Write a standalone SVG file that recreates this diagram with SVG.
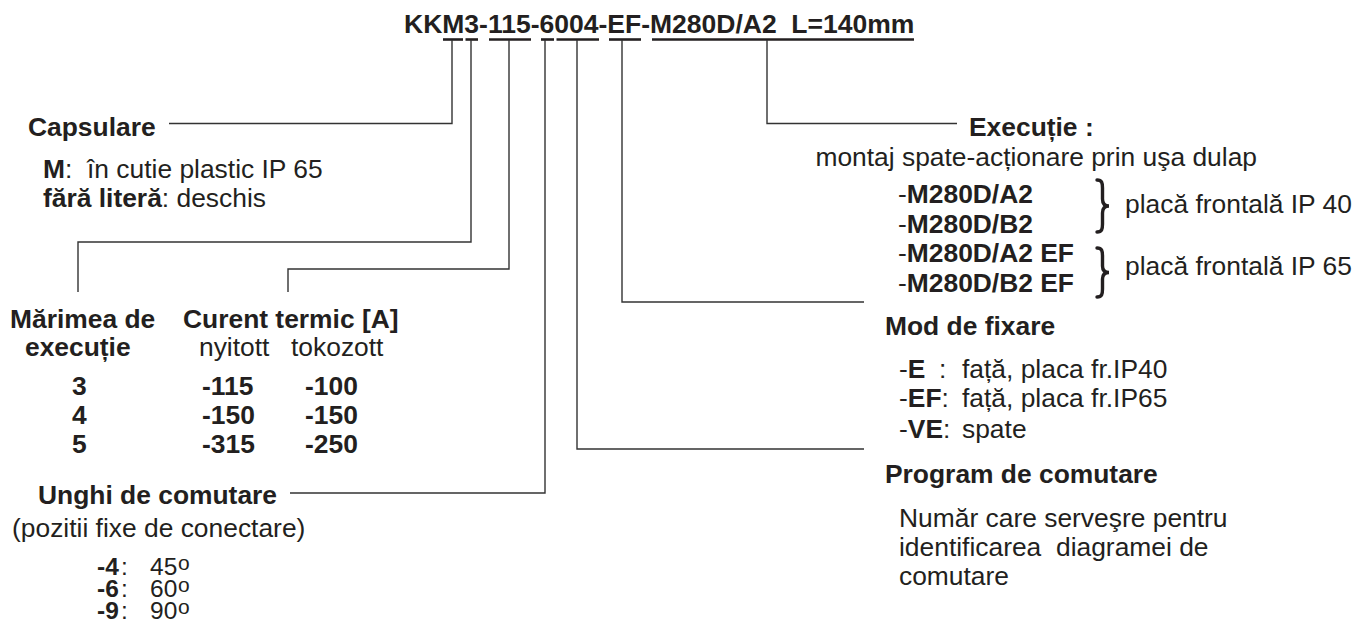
<svg xmlns="http://www.w3.org/2000/svg" width="1358" height="635" viewBox="0 0 1358 635">
<style>
text{font-family:"Liberation Sans",Arial,sans-serif;font-size:26.4px;fill:#231f20}
.b{font-weight:bold}
.conn{fill:none;stroke:#333;stroke-width:1.4}
.ul{stroke:#231f20;stroke-width:2.6}
.brace{fill:none;stroke:#231f20;stroke-width:3.4;stroke-linecap:round}
.deg{font-size:24.5px}
.o{font-size:21px}
</style>
<rect width="1358" height="635" fill="#fff"/>
<g id="title">
<text class="b" x="404" y="33" style="font-size:26.5px" xml:space="preserve">KKM3-115-6004-EF-M280D/A2  L=140mm</text>
<line class="ul" x1="443" y1="39.5" x2="463" y2="39.5"/>
<line class="ul" x1="465.5" y1="39.5" x2="478" y2="39.5"/>
<line class="ul" x1="489" y1="39.5" x2="531" y2="39.5"/>
<line class="ul" x1="541" y1="39.5" x2="554" y2="39.5"/>
<line class="ul" x1="556.5" y1="39.5" x2="599" y2="39.5"/>
<line class="ul" x1="609" y1="39.5" x2="641" y2="39.5"/>
<line class="ul" x1="652" y1="39.5" x2="914" y2="39.5"/>
</g>
<g id="connectors">
<polyline class="conn" points="452,40 452,123.5 169,123.5"/>
<polyline class="conn" points="471,40 471,242 78,242 78,292"/>
<polyline class="conn" points="509,40 509,269 288,269 288,292"/>
<polyline class="conn" points="545,40 545,493 290,493"/>
<polyline class="conn" points="577,40 577,449 864,449"/>
<polyline class="conn" points="622,40 622,302 864,302"/>
<polyline class="conn" points="767,40 767,123.5 957,123.5"/>
</g>
<g id="capsulare">
<text class="b" x="28" y="135.5">Capsulare</text>
<text x="43" y="178" xml:space="preserve"><tspan class="b">M</tspan>:  în cutie plastic IP 65</text>
<text x="43" y="206.5"><tspan class="b">fără literă</tspan>: deschis</text>
</g>
<g id="marime">
<text class="b" x="10" y="328">Mărimea de</text>
<text class="b" x="25" y="356">execuție</text>
<text class="b" x="72" y="395">3</text>
<text class="b" x="72" y="423.5">4</text>
<text class="b" x="72" y="452.5">5</text>
</g>
<g id="curent">
<text class="b" x="183" y="328">Curent termic [A]</text>
<text x="199" y="356">nyitott</text>
<text x="291" y="356">tokozott</text>
<text class="b" x="202" y="395">-115</text>
<text class="b" x="305" y="395">-100</text>
<text class="b" x="202" y="423.5">-150</text>
<text class="b" x="305" y="423.5">-150</text>
<text class="b" x="202" y="452.5">-315</text>
<text class="b" x="305" y="452.5">-250</text>
</g>
<g id="unghi">
<text class="b" x="38" y="504">Unghi de comutare</text>
<text x="12" y="536.5">(pozitii fixe de conectare)</text>
<text class="deg" x="97" y="575"><tspan class="b">-4</tspan><tspan x="121">:</tspan><tspan x="150">45</tspan><tspan class="o" x="178" dy="-5">o</tspan></text>
<text class="deg" x="97" y="597"><tspan class="b">-6</tspan><tspan x="121">:</tspan><tspan x="150">60</tspan><tspan class="o" x="178" dy="-5">o</tspan></text>
<text class="deg" x="97" y="619"><tspan class="b">-9</tspan><tspan x="121">:</tspan><tspan x="150">90</tspan><tspan class="o" x="178" dy="-5">o</tspan></text>
</g>
<g id="executie">
<text class="b" x="969" y="136">Execuție :</text>
<text x="1257" y="166" text-anchor="end">montaj spate-acționare prin uşa dulap</text>
<text x="898" y="203">-<tspan class="b">M280D/A2</tspan></text>
<text x="898" y="232.5">-<tspan class="b">M280D/B2</tspan></text>
<text x="898" y="262">-<tspan class="b">M280D/A2 EF</tspan></text>
<text x="898" y="291.5">-<tspan class="b">M280D/B2 EF</tspan></text>
<path class="brace" d="M1097,180 C1102,180 1102.5,183 1102.5,188 L1102.5,199 C1102.5,203 1104,206 1109,206 C1104,206 1102.5,209 1102.5,213 L1102.5,224 C1102.5,229 1102,232 1097,232"/>
<path class="brace" d="M1097,248 C1102,248 1102.5,251 1102.5,256 L1102.5,266 C1102.5,270 1104,272.5 1109,272.5 C1104,272.5 1102.5,275 1102.5,279 L1102.5,289 C1102.5,294 1102,297 1097,297"/>
<text x="1125" y="213">placă frontală IP 40</text>
<text x="1125" y="275">placă frontală IP 65</text>
</g>
<g id="mod-fixare">
<text class="b" x="885" y="335">Mod de fixare</text>
<text x="899" y="378">-<tspan class="b">E</tspan><tspan x="939">:</tspan><tspan x="962">față, placa fr.IP40</tspan></text>
<text x="899" y="406.5">-<tspan class="b">EF</tspan>:<tspan x="962">față, placa fr.IP65</tspan></text>
<text x="899" y="437.5">-<tspan class="b">VE</tspan>:<tspan x="962">spate</tspan></text>
</g>
<g id="program">
<text class="b" x="885" y="482.5">Program de comutare</text>
<text x="899" y="526.5">Număr care serveşre pentru</text>
<text x="899" y="555.5" xml:space="preserve">identificarea  diagramei de</text>
<text x="899" y="585">comutare</text>
</g>
</svg>
